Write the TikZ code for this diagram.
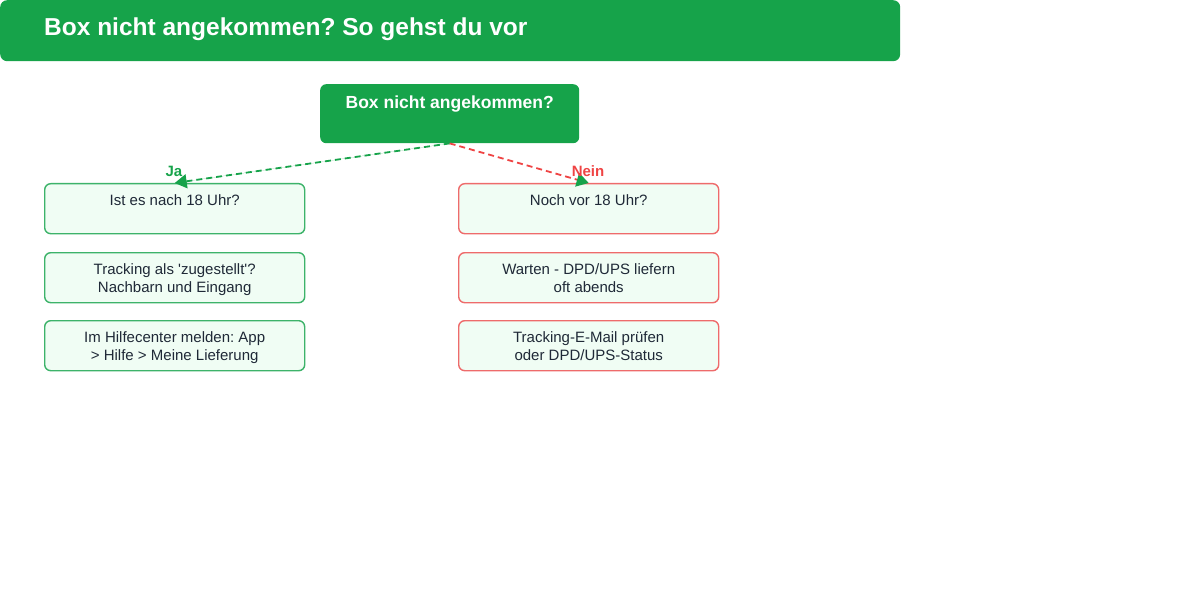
\documentclass[tikz,border=0pt]{standalone}
\usepackage{fontspec}
\setmainfont{Liberation Sans}
\usetikzlibrary{arrows.meta,positioning}
\definecolor{hdgreen}{HTML}{16A34A}
\definecolor{jagreen}{HTML}{3DB36A}
\definecolor{neinred}{HTML}{EF4444}
\definecolor{boxred}{HTML}{EE6B6B}
\definecolor{boxfill}{HTML}{F0FDF4}
\definecolor{txtgray}{HTML}{1F2937}
\frenchspacing
\tikzset{
  header/.style={fill=hdgreen,draw=none,rounded corners=7,anchor=north west,minimum width=900,minimum height=61,inner sep=0},
  question/.style={fill=hdgreen,draw=none,rounded corners=6,anchor=north west,minimum width=259,minimum height=59,inner sep=0},
  stepbox/.style={fill=boxfill,draw=#1,line width=1.4,rounded corners=6,anchor=north west,minimum width=260,minimum height=50,inner sep=0},
  steptext/.style={anchor=north,inner sep=0,text=txtgray,align=center,font=\fontsize{15}{18}\selectfont},
  branch/.style={dash pattern=on 6 off 4,line width=1.8,-{Triangle[length=12,width=14]}},
}
\begin{document}
\begin{tikzpicture}[x=1pt,y=-1pt,line cap=butt]
\useasboundingbox (0,0) rectangle (1200,591);
\node[header] (hd) at (0,0) {};
\node[anchor=base west,inner sep=0,text=white,font=\fontsize{24.5}{28}\bfseries\selectfont] (title) at (44,36) {Box nicht angekommen? So gehst du vor};
\node[question] (q) at (320,84) {};
\node[anchor=north,inner sep=0,text=white,font=\fontsize{17.5}{20}\bfseries\selectfont] (qt) at ([yshift=-12]q.north) {Box nicht angekommen?};
% Ja
\node[stepbox=jagreen] (ja1) at (44,183) {};
\node[stepbox=jagreen] (ja2) at (44,252) {};
\node[stepbox=jagreen] (ja3) at (44,320) {};
\node[steptext] at ([yshift=-11]ja1.north) {Ist es nach 18 Uhr?};
\node[steptext] at ([yshift=-11]ja2.north) {Tracking als \textquotesingle zugestellt\textquotesingle?\\Nachbarn und Eingang};
\node[steptext] at ([yshift=-11]ja3.north) {Im Hilfecenter melden: App\\> Hilfe > Meine Lieferung};
% Nein
\node[stepbox=boxred] (ne1) at (458,183) {};
\node[stepbox=boxred] (ne2) at (458,252) {};
\node[stepbox=boxred] (ne3) at (458,320) {};
\node[steptext] at ([yshift=-11]ne1.north) {Noch vor 18 Uhr?};
\node[steptext] at ([yshift=-11]ne2.north) {Warten - DPD/UPS liefern\\oft abends};
\node[steptext] at ([yshift=-11]ne3.north) {Tracking-E-Mail prüfen\\oder DPD/UPS-Status};
% Pfeile
\draw[branch,draw=hdgreen,fill=hdgreen] (q.south) -- (ja1.north);
\draw[branch,draw=neinred,-{Triangle[length=12,width=14,fill=hdgreen,color=hdgreen]}] (q.south) -- (ne1.north);
\node[text=hdgreen,font=\fontsize{15}{16}\bfseries\selectfont,inner sep=0] (ja) at (174,171) {Ja};
\node[text=neinred,font=\fontsize{15}{16}\bfseries\selectfont,inner sep=0] (nein) at (588,171) {Nein};
\end{tikzpicture}
\end{document}
